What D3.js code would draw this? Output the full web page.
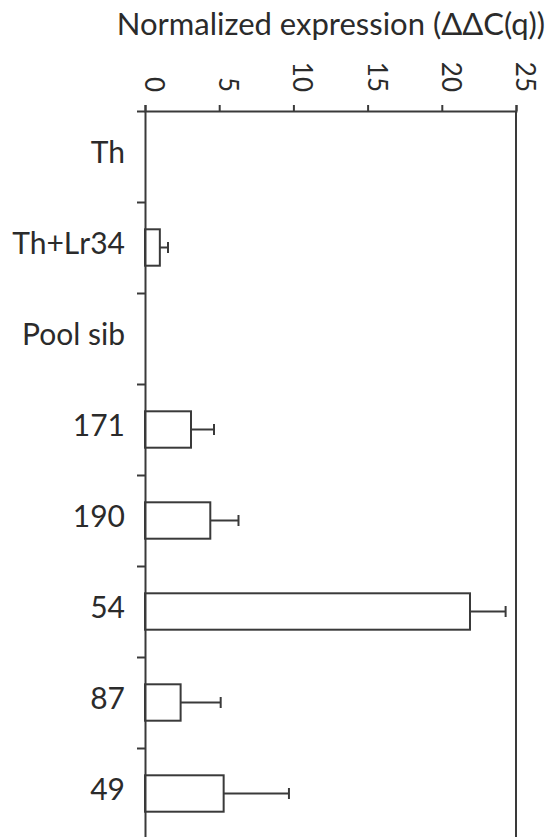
<!DOCTYPE html>
<html>
<head>
<meta charset="utf-8">
<style>
    body {
        margin: 0;
        background-color: #ffffff;
        font-family: Lato, sans-serif;
    }
    .tickLabel {
        font-size: 26px;
        fill: #2b2b2b;
    }
</style>
<script src="https://cdn.jsdelivr.net/npm/d3@7"></script>
</head>
<body>
<svg id="Chart"></svg>
<script>
// chart values
let categories = ["Th", "Th+Lr34", "Pool sib", "171", "190", "54", "87", "49"]
let expression = [0, 1.0, 0, 3.1, 4.4, 21.9, 2.4, 5.3]
let errors = [0, 0.55, 0, 1.55, 1.9, 2.4, 2.7, 4.4]
let xTicks = [0, 5, 10, 15, 20, 25]
let title = "Normalized expression (\u0394\u0394C(q))"

function getConfig() {
    let width = 548
    let height = 837
    let margin = { top: 111, left: 145, right: 32 }
    let bandHeight = 91
    let bodyWidth = width - margin.left - margin.right
    let bodyHeight = bandHeight * categories.length
    let container = d3.select("#Chart")
        .attr("width", width)
        .attr("height", height)
    return { width, height, margin, bodyWidth, bodyHeight, container }
}

function getScales(config) {
    let { bodyWidth, bodyHeight } = config
    let xScale = d3.scaleLinear()
        .domain([0, 25])
        .range([0, bodyWidth])
    let yScale = d3.scaleBand()
        .domain(categories)
        .range([0, bodyHeight])
        .padding(0)
    // used only for the tick marks between the categories
    let yEdges = d3.scaleLinear()
        .domain([0, categories.length])
        .range([0, bodyHeight])
    return { xScale, yScale, yEdges }
}

function drawBars(scales, config) {
    let { margin, container } = config
    let { xScale, yScale } = scales
    let body = container.append("g")
        .attr("transform", `translate(${margin.left},${margin.top})`)

    let rows = categories.map((c, i) => ({ name: c, value: expression[i], err: errors[i] }))
    let barH = yScale.bandwidth() * 0.4

    body.selectAll(".bar").data(rows.filter(d => d.value > 0))
        .enter().append("rect")
        .attr("class", "bar")
        .attr("x", xScale(0))
        .attr("y", d => yScale(d.name) + (yScale.bandwidth() - barH) / 2)
        .attr("width", d => xScale(d.value) - xScale(0))
        .attr("height", barH)
        .attr("fill", "#ffffff")
        .attr("stroke", "#3a3a3a")
        .attr("stroke-width", 2)

    let withErr = rows.filter(d => d.err > 0)
    let mid = d => yScale(d.name) + yScale.bandwidth() / 2

    body.selectAll(".errLine").data(withErr)
        .enter().append("line")
        .attr("x1", d => xScale(d.value))
        .attr("x2", d => xScale(d.value + d.err))
        .attr("y1", mid)
        .attr("y2", mid)
        .attr("stroke", "#3a3a3a")
        .attr("stroke-width", 2)

    body.selectAll(".errCap").data(withErr)
        .enter().append("line")
        .attr("x1", d => xScale(d.value + d.err))
        .attr("x2", d => xScale(d.value + d.err))
        .attr("y1", d => mid(d) - 5.5)
        .attr("y2", d => mid(d) + 5.5)
        .attr("stroke", "#3a3a3a")
        .attr("stroke-width", 2)
}

function drawAxes(scales, config) {
    let { xScale, yScale, yEdges } = scales
    let { container, margin, bodyWidth, bodyHeight, width } = config

    // top axis with the rotated numbers
    let axisX = d3.axisTop(xScale)
        .tickValues(xTicks)
        .tickSize(6)
        .tickSizeOuter(6)
    let gx = container.append("g")
        .attr("transform", `translate(${margin.left},${margin.top})`)
        .call(axisX)
    gx.select(".domain").attr("stroke", "#3a3a3a").attr("stroke-width", 2)
    gx.selectAll(".tick line").attr("stroke", "#3a3a3a").attr("stroke-width", 2)
    gx.selectAll(".tick text")
        .attr("class", "tickLabel")
        .attr("transform", "rotate(90)")
        .attr("x", -19)
        .attr("y", 0)
        .attr("dy", "0.02em")
        .style("text-anchor", "end")
        .style("font-family", "Lato, sans-serif")

    // left axis: tick marks between categories
    let axisEdges = d3.axisLeft(yEdges)
        .tickValues(d3.range(categories.length + 1))
        .tickFormat("")
        .tickSize(8)
        .tickSizeOuter(0)
    let gy = container.append("g")
        .attr("transform", `translate(${margin.left},${margin.top})`)
        .call(axisEdges)
    gy.select(".domain").attr("stroke", "#3a3a3a").attr("stroke-width", 2)
    gy.selectAll(".tick line").attr("stroke", "#3a3a3a").attr("stroke-width", 2)

    // category names
    let axisY = d3.axisLeft(yScale)
        .tickSize(0)
        .tickPadding(20)
    let gl = container.append("g")
        .attr("transform", `translate(${margin.left},${margin.top})`)
        .call(axisY)
    gl.select(".domain").remove()
    gl.selectAll(".tick text")
        .attr("class", "tickLabel")
        .attr("dy", "0.2em")
        .style("font-size", "30px")
        .style("font-family", "Lato, sans-serif")

    // right border
    container.append("line")
        .attr("x1", margin.left + bodyWidth)
        .attr("x2", margin.left + bodyWidth)
        .attr("y1", margin.top)
        .attr("y2", margin.top + bodyHeight)
        .attr("stroke", "#3a3a3a")
        .attr("stroke-width", 2)

    container.append("text")
        .attr("x", 545)
        .attr("y", 35)
        .attr("text-anchor", "end")
        .style("font-size", "31px")
        .style("fill", "#2b2b2b")
        .text(title)
}

let config = getConfig()
let scales = getScales(config)
drawBars(scales, config)
drawAxes(scales, config)
</script>
</body>
</html>
